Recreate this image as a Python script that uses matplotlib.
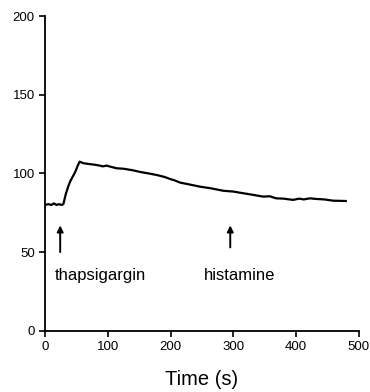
import numpy as np
import matplotlib.pyplot as plt

plt.rcParams['font.family'] = ['Liberation Sans', 'DejaVu Sans']

# trace (time in s, signal)
time_s = [0, 5, 10, 14, 18, 22, 26, 29, 33, 37, 40, 44, 48, 52, 55, 58, 61, 70, 80, 87, 92, 98, 104,
          114, 125, 140, 151, 165, 178, 190, 199, 207, 215, 230, 247, 265, 284, 300, 310, 330,
          347, 358, 368, 380, 395, 405, 412, 422, 432, 445, 459, 470, 479]
signal = [80, 80.5, 80, 81, 80, 80.5, 80, 80.5, 87, 92, 95, 98, 101, 105, 107.5, 107, 106.5, 106,
          105.5, 105, 104.5, 105, 104.3, 103.3, 103, 102, 101, 100, 99, 97.8, 96.5, 95.5, 94.2,
          93, 91.6, 90.5, 89, 88.5, 87.8, 86.5, 85.3, 85.5, 84.2, 84, 83.2, 84, 83.5, 84.2, 83.8,
          83.5, 82.7, 82.6, 82.5]

arrow_x = [24, 295]
arrow_y0 = [50, 53]
arrow_y1 = [67, 67]
labels = ['thapsigargin', 'histamine']
label_x = [16, 253]
label_y = 35

fig = plt.figure(figsize=(3.70, 3.92), dpi=100)
ax = fig.add_axes([0.122, 0.156, 0.848, 0.803])

ax.plot(time_s, signal, color='black', linewidth=1.6)

for x, y0, y1, lab, lx in zip(arrow_x, arrow_y0, arrow_y1, labels, label_x):
    ax.annotate('', xy=(x, y1), xytext=(x, y0),
                arrowprops=dict(arrowstyle='-|>', color='black', lw=1.4,
                                mutation_scale=9, shrinkA=0, shrinkB=0))
    ax.text(lx, label_y, lab, fontsize=12, va='center', ha='left')

ax.set_xlim(0, 500)
ax.set_ylim(0, 200)
ax.set_xticks(np.arange(0, 501, 100))
ax.set_yticks(np.arange(0, 201, 50))
ax.spines['top'].set_visible(False)
ax.spines['right'].set_visible(False)
ax.spines['left'].set_linewidth(1.3)
ax.spines['bottom'].set_linewidth(1.3)
ax.tick_params(direction='out', length=4, width=1.2, labelsize=9.5)
ax.set_xlabel('Time (s)', fontsize=14.5, labelpad=12)

plt.savefig('out.png', dpi=100)
